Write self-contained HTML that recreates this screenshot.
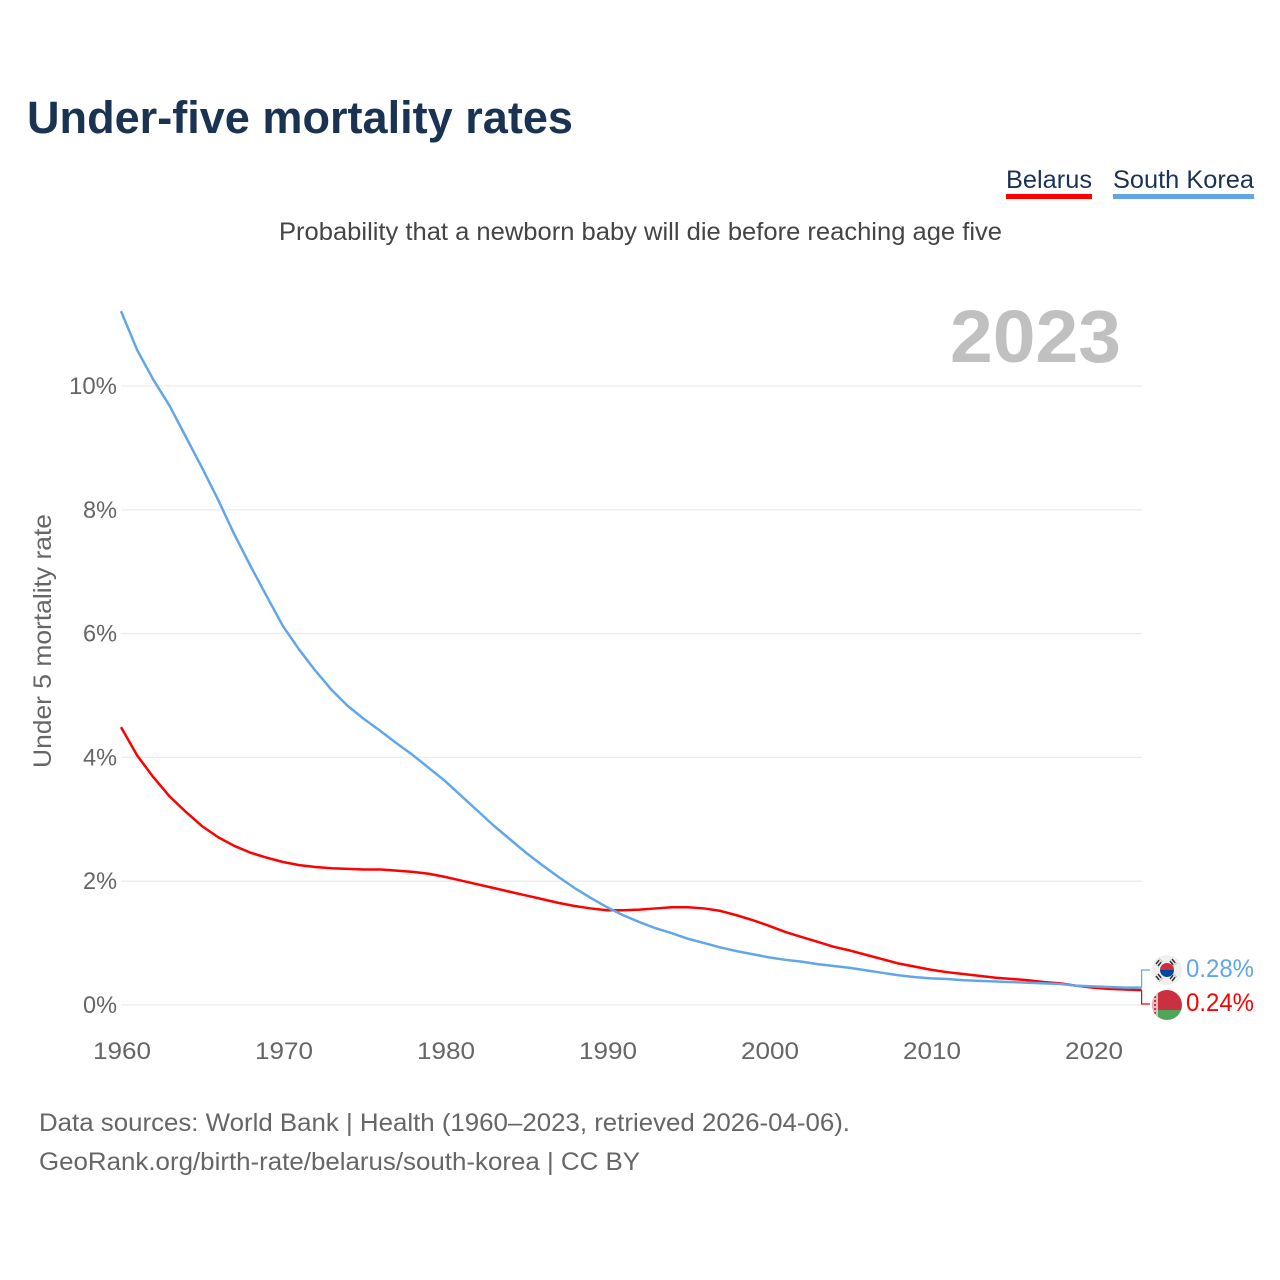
<!DOCTYPE html>
<html lang="en">
<head>
<meta charset="utf-8">
<title>Under-five mortality rates</title>
<style>
html,body{margin:0;padding:0;background:#fff;width:1280px;height:1280px;overflow:hidden}
svg{display:block}
text{font-family:"Liberation Sans",sans-serif}
</style>
</head>
<body>
<svg id="chart" xmlns="http://www.w3.org/2000/svg" width="1280" height="1280" viewBox="0 0 1280 1280">
  <rect x="0" y="0" width="1280" height="1280" fill="#fff"/>
  <text x="27" y="133" font-size="45" font-weight="700" fill="#1a3353" textLength="546" lengthAdjust="spacingAndGlyphs">Under-five mortality rates</text>
  <g>
    <text x="1006" y="188" font-size="25" fill="#1a3353" textLength="86" lengthAdjust="spacingAndGlyphs">Belarus</text>
    <rect x="1006" y="194" width="86" height="5" fill="#ff0000"/>
  </g>
  <g>
    <text x="1113" y="188" font-size="25" fill="#1a3353" textLength="141" lengthAdjust="spacingAndGlyphs">South Korea</text>
    <rect x="1113" y="194" width="141" height="5" fill="#62a6ea"/>
  </g>
  <text x="279" y="240" font-size="25" fill="#444" textLength="723" lengthAdjust="spacingAndGlyphs">Probability that a newborn baby will die before reaching age five</text>
  <text x="950" y="362" font-size="74" font-weight="700" fill="#c0c0c0" textLength="171" lengthAdjust="spacingAndGlyphs">2023</text>
  <text transform="translate(51,768) rotate(-90)" x="0" y="0" font-size="25" fill="#666" textLength="254" lengthAdjust="spacingAndGlyphs">Under 5 mortality rate</text>
  <g id="grid"></g>
  <g id="yticks"></g>
  <g id="xticks"></g>
  <g id="series"></g>
  <defs>
    <clipPath id="clip-kr"><circle cx="1167" cy="970" r="15"/></clipPath>
    <clipPath id="clip-by"><circle cx="1167" cy="1005" r="15"/></clipPath>
  </defs>
  <g clip-path="url(#clip-kr)">
    <rect x="1152" y="955" width="30" height="30" fill="#efefef"/>
    <path d="M1160 970a7 7 0 0 1 14 0z" fill="#cd2e3a"/>
    <path d="M1160 970a7 7 0 0 0 14 0z" fill="#0047a0"/>
    <g stroke="#333" stroke-width="1.5" stroke-dasharray="5 1" fill="none">
      <path d="M1156 964l4-5M1158 966l4-5M1172 959l4 5M1170 961l4 5M1156 976l4 5M1158 974l4 5M1172 981l4-5M1170 979l4-5"/>
    </g>
  </g>
  <g clip-path="url(#clip-by)">
    <rect x="1152" y="990" width="30" height="20" fill="#cb3040"/>
    <rect x="1152" y="1010" width="30" height="10" fill="#4fa65a"/>
    <rect x="1152" y="990" width="6" height="30" fill="#e9b9bd"/>
    <path d="M1155 992v26" stroke="#cb3040" stroke-width="2" stroke-dasharray="2 2" fill="none"/>
  </g>
  <g id="endlabels"></g>
  <text x="39" y="1131" font-size="25" fill="#666" textLength="811" lengthAdjust="spacingAndGlyphs">Data sources: World Bank | Health (1960–2023, retrieved 2026-04-06).</text>
  <text x="39" y="1170" font-size="25" fill="#666" textLength="601" lengthAdjust="spacingAndGlyphs">GeoRank.org/birth-rate/belarus/south-korea | CC BY</text>
</svg>
<script>
const firstYear = 1960;
const belarusValues = [4.49,4.03,3.68,3.37,3.12,2.89,2.71,2.57,2.46,2.38,2.31,2.26,2.23,2.21,2.20,2.19,2.19,2.17,2.15,2.12,2.07,2.01,1.95,1.89,1.83,1.77,1.71,1.65,1.60,1.56,1.53,1.53,1.54,1.56,1.58,1.58,1.56,1.52,1.45,1.37,1.28,1.18,1.10,1.02,0.94,0.88,0.81,0.74,0.67,0.62,0.57,0.53,0.50,0.47,0.44,0.42,0.40,0.37,0.35,0.31,0.28,0.26,0.25,0.24];
const southKoreaValues = [11.21,10.58,10.10,9.68,9.18,8.68,8.16,7.60,7.09,6.60,6.12,5.74,5.40,5.09,4.83,4.62,4.43,4.23,4.04,3.83,3.62,3.38,3.14,2.90,2.68,2.46,2.26,2.07,1.89,1.73,1.58,1.45,1.34,1.24,1.16,1.07,1.00,0.93,0.87,0.82,0.77,0.73,0.70,0.66,0.63,0.60,0.56,0.52,0.48,0.45,0.43,0.42,0.40,0.39,0.38,0.37,0.36,0.35,0.34,0.31,0.30,0.29,0.28,0.28];
const yTickValues = [0,2,4,6,8,10];
const yTickLabels = ["0%","2%","4%","6%","8%","10%"];
const xTickYears = [1960,1970,1980,1990,2000,2010,2020];
const endLabelBelarus = "0.24%";
const endLabelSouthKorea = "0.28%";

const NS = "http://www.w3.org/2000/svg";
const xScale = function (year) { return 121 + (year - 1960) * 16.2; };
const yScale = function (value) { return 1005 - value * 61.9; };

function make(tag, attrs, parent, content) {
  const el = document.createElementNS(NS, tag);
  Object.keys(attrs).forEach(function (k) { el.setAttribute(k, attrs[k]); });
  if (content !== undefined) el.textContent = content;
  parent.appendChild(el);
  return el;
}

const grid = document.getElementById("grid");
const yticks = document.getElementById("yticks");
yTickValues.forEach(function (v, i) {
  const line = make("line", {x1: 121, x2: 1142, y1: yScale(v), y2: yScale(v), stroke: "#ececec", "stroke-width": 1.3}, grid);
  
  
  const label = yTickLabels[i];
  const t = make("text", {x: 117, y: yScale(v) + 8, "text-anchor": "end", "font-size": 24.5, fill: "#666", textLength: label.length === 3 ? 48 : 34, lengthAdjust: "spacingAndGlyphs"}, yticks, label);
  
  
});

const xticks = document.getElementById("xticks");
xTickYears.forEach(function (year) {
  const t = make("text", {x: xScale(year) + 1, y: 1059, "text-anchor": "middle", "font-size": 24.5, fill: "#666", textLength: 58, lengthAdjust: "spacingAndGlyphs"}, xticks, String(year));
  
  
});

function pathFor(values) {
  return values.map(function (v, i) {
    return (i === 0 ? "M" : "L") + xScale(firstYear + i).toFixed(2) + " " + yScale(v).toFixed(2);
  }).join(" ");
}

const series = document.getElementById("series");
const belarusLine = make("path", {d: pathFor(belarusValues), fill: "none", stroke: "#ff0000", "stroke-width": 2.5, "stroke-linejoin": "round"}, series);


const southKoreaLine = make("path", {d: pathFor(southKoreaValues), fill: "none", stroke: "#62a6ea", "stroke-width": 2.5, "stroke-linejoin": "round"}, series);



const lastX = xScale(firstYear + southKoreaValues.length - 1);
const endLabels = document.getElementById("endlabels");
const krLast = yScale(southKoreaValues[southKoreaValues.length - 1]);
const byLast = yScale(belarusValues[belarusValues.length - 1]);
const krConnector = make("path", {d: "M" + lastX + " " + krLast + "V970H1150", fill: "none", stroke: "#62a6ea", "stroke-width": 1.2}, endLabels);


const byConnector = make("path", {d: "M" + lastX + " " + byLast + "V1004H1150", fill: "none", stroke: "#ff0000", "stroke-width": 1.2}, endLabels);


const krLabel = make("text", {x: 1186, y: 977, "font-size": 25, fill: "#62a6ea", textLength: 68, lengthAdjust: "spacingAndGlyphs"}, endLabels, endLabelSouthKorea);


const byLabel = make("text", {x: 1186, y: 1011, "font-size": 25, fill: "#ff0000", textLength: 68, lengthAdjust: "spacingAndGlyphs"}, endLabels, endLabelBelarus);


</script>
</body>
</html>
